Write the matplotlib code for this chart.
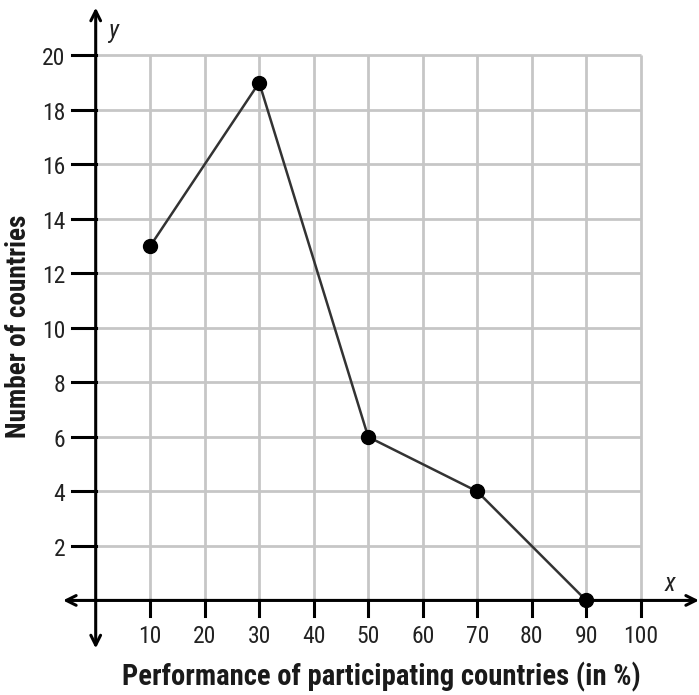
import matplotlib
matplotlib.use("Agg")
import matplotlib.pyplot as plt
from matplotlib import font_manager

# Data
performance = [10, 30, 50, 70, 90]
countries = [13, 19, 6, 4, 0]
x_ticks = [10, 20, 30, 40, 50, 60, 70, 80, 90, 100]
y_ticks = [2, 4, 6, 8, 10, 12, 14, 16, 18, 20]


def pick_family(candidates, weight):
    """First candidate family that is installed with at least the given weight."""
    faces = {(f.name, f.weight) for f in font_manager.fontManager.ttflist}
    for name in candidates:
        if any(n == name and (w if isinstance(w, int) else 400) >= weight for n, w in faces):
            return name
    return 'DejaVu Sans'


narrow = ['Roboto Condensed', 'Archivo Narrow', 'IBM Plex Sans Condensed', 'PT Sans Narrow',
          'Liberation Sans']
regular_font = pick_family(narrow, 400)
bold_font = pick_family(narrow, 700)

fig = plt.figure(figsize=(6.99, 6.95), dpi=100)
ax = fig.add_axes([0, 0, 1, 1])
ax.set_xlim(-17.56, 110.7)
ax.set_ylim(-3.47, 22.03)
ax.axis('off')

grid_kw = dict(color='#c6c6c6', lw=2.0, zorder=1, solid_capstyle='butt')
for xv in x_ticks:
    ax.plot([xv, xv], [0, 20], **grid_kw)
for yv in y_ticks:
    ax.plot([0, 100], [yv, yv], **grid_kw)

# Axes with arrowheads on both ends
arrow_kw = dict(arrowstyle='<->,head_length=0.7,head_width=0.35', color='black', lw=2.2,
                shrinkA=0, shrinkB=0)
ax.annotate('', xy=(110.7, 0), xytext=(-6.0, 0), arrowprops=arrow_kw, zorder=3)
ax.annotate('', xy=(0, 21.75), xytext=(0, -1.76), arrowprops=arrow_kw, zorder=3)

tick_font = dict(fontsize=17, color='#222222', family=regular_font)
for xv in x_ticks:
    ax.plot([xv, xv], [0, -0.58], color='black', lw=2.2, zorder=3)
    ax.text(xv, -1.57, str(xv), ha='center', va='baseline', **tick_font)
for yv in y_ticks:
    ax.plot([-4.4, 0], [yv, yv], color='black', lw=2.2, zorder=3)
    ax.text(-5.6, yv - 0.37, str(yv), ha='right', va='baseline', **tick_font)

ax.text(3.2, 20.63, 'y', ha='center', va='baseline', fontsize=18, style='italic',
        color='#222222', family=regular_font)
ax.text(105.4, 0.35, 'x', ha='center', va='baseline', fontsize=18, style='italic',
        color='#222222', family=regular_font)

ax.plot(performance, countries, color='#333333', lw=1.8, zorder=4,
        marker='o', markersize=10, markerfacecolor='black', markeredgecolor='black')

ax.text(52.4, -3.11, 'Performance of participating countries (in %)', ha='center',
        va='baseline', fontsize=20.6, fontweight='bold', color='#1a1a1a', family=bold_font)
ax.text(-11.7, 10.05, 'Number of countries', ha='right', va='center', rotation=90,
        fontsize=19.6, fontweight='bold', color='#1a1a1a', family=bold_font)

fig.savefig('out.png', dpi=100, facecolor='white')
